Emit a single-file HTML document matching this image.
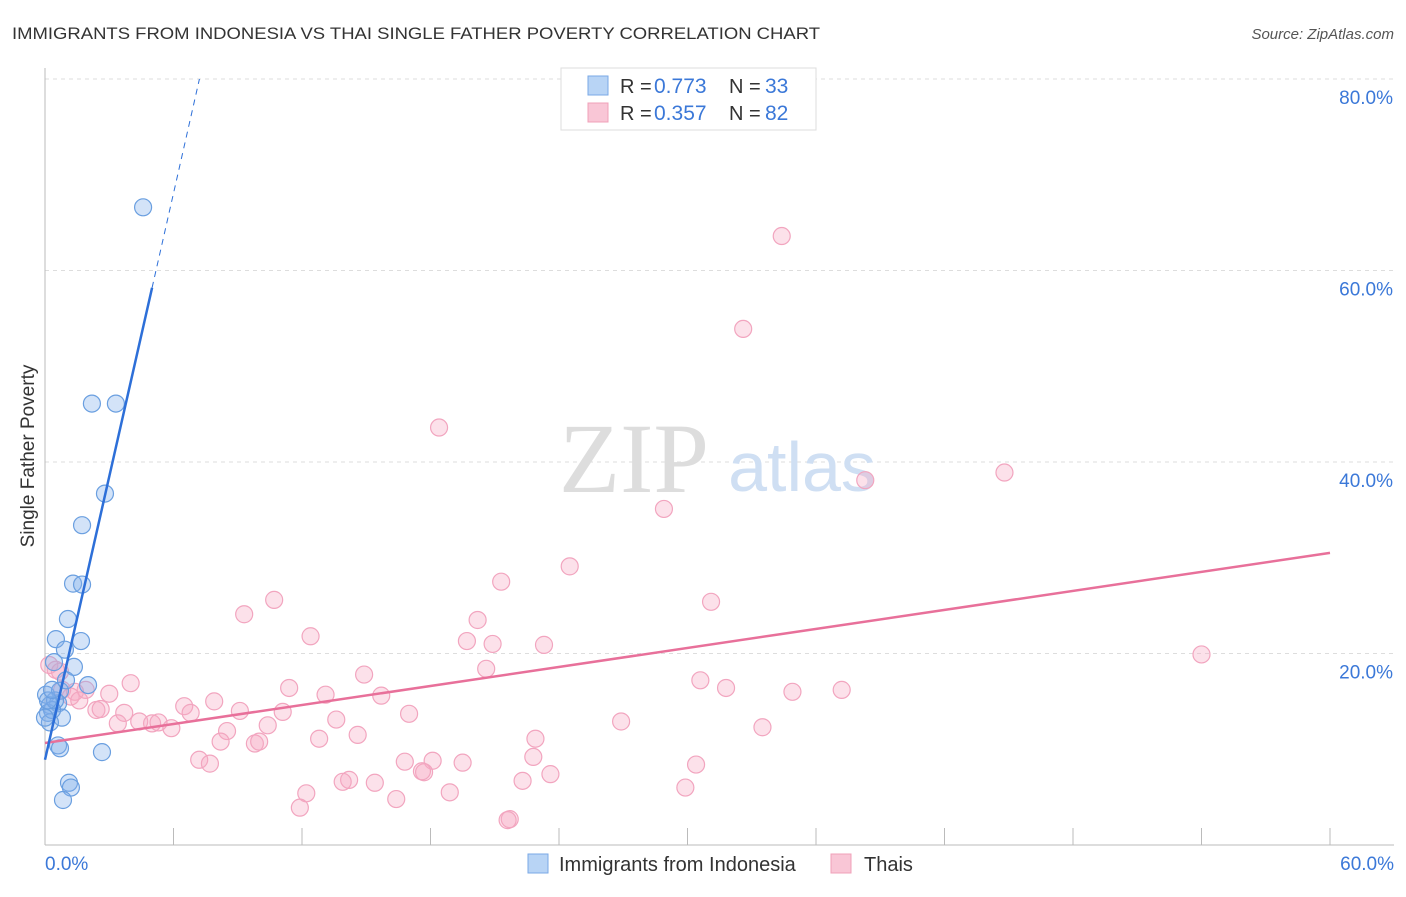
<!DOCTYPE html>
<html><head><meta charset="utf-8"><style>
body{margin:0;background:#fff;font-family:"Liberation Sans",sans-serif;}
</style></head><body>
<svg width="1406" height="892" font-family="Liberation Sans, sans-serif">
<text x="12" y="39" font-size="17" fill="#333" textLength="808" lengthAdjust="spacingAndGlyphs">IMMIGRANTS FROM INDONESIA VS THAI SINGLE FATHER POVERTY CORRELATION CHART</text>
<text x="1394" y="39" font-size="15" font-style="italic" fill="#555" text-anchor="end">Source: ZipAtlas.com</text>
<text x="34" y="456" font-size="19" fill="#333" text-anchor="middle" transform="rotate(-90 34 456)">Single Father Poverty</text>
<g id="grid"></g>
<text x="634" y="492" font-size="100" fill="#ddd" style="font-family:'Liberation Serif',serif" text-anchor="middle">ZIP</text>
<text x="802" y="491" font-size="70" fill="#cfdff3" text-anchor="middle">atlas</text>
<g id="marks"></g>
<g>
<rect x="561" y="68" width="255" height="62" fill="#fff" stroke="#ddd"/>
<rect x="588" y="76" width="20" height="19" fill="#b8d4f5" stroke="#7aa8e6"/>
<rect x="588" y="103" width="20" height="19" fill="#f9c6d6" stroke="#f0a0b8"/>
<text x="620" y="93" font-size="20" fill="#333">R =</text>
<text x="654" y="93" font-size="21" fill="#3b78d8">0.773</text>
<text x="729" y="93" font-size="20" fill="#333">N =</text>
<text x="765" y="93" font-size="21" fill="#3b78d8">33</text>
<text x="620" y="120" font-size="20" fill="#333">R =</text>
<text x="654" y="120" font-size="21" fill="#3b78d8">0.357</text>
<text x="729" y="120" font-size="20" fill="#333">N =</text>
<text x="765" y="120" font-size="21" fill="#3b78d8">82</text>
</g>
<g>
<rect x="528" y="854" width="20" height="19" fill="#b8d4f5" stroke="#7aa8e6"/>
<text x="559" y="871" font-size="20" fill="#333">Immigrants from Indonesia</text>
<rect x="831" y="854" width="20" height="19" fill="#f9c6d6" stroke="#f0a0b8"/>
<text x="864" y="871" font-size="20" fill="#333">Thais</text>
</g>
</svg>
<script>
const blueX=[4.58,2.19,3.31,2.80,1.73,1.31,1.73,1.07,0.51,1.68,0.93,1.35,0.42,0.05,0.70,2.01,0.23,0.61,0.14,0.79,0.23,0.33,0.61,0.70,2.66,1.12,1.21,0.84,0.98,0.47,0.14,0.33,0.0];
const blueY=[66.6,46.1,46.1,36.7,33.4,27.3,27.2,23.6,21.5,21.3,20.4,18.6,19.1,15.7,16.1,16.7,14.6,14.8,13.8,13.3,12.8,14.1,10.4,10.1,9.7,6.5,6.0,4.7,17.2,15.1,15.1,16.2,13.3];
const pinkX=[34.4,32.6,18.4,38.3,44.8,28.9,24.5,21.3,31.1,10.7,9.3,20.2,12.4,19.7,20.9,23.3,54.0,20.6,14.9,30.6,31.8,34.9,37.2,4.0,3.0,11.4,13.1,15.7,7.9,6.5,9.1,6.8,2.4,2.6,3.7,4.4,5.0,5.3,5.9,3.4,8.5,10.4,11.1,13.6,17.0,26.9,33.5,12.8,14.6,22.9,8.2,9.8,10.0,7.2,7.7,22.8,18.1,16.8,17.7,17.6,19.5,30.4,23.6,22.3,14.2,13.9,15.4,12.2,18.9,16.4,11.9,29.9,21.7,21.6,0.2,0.5,0.8,1.4,1.9,1.2,0.7,1.6];
const pinkY=[63.6,53.9,43.6,38.1,38.9,35.1,29.1,27.5,25.4,25.6,24.1,23.5,21.8,21.3,21.0,20.9,19.9,18.4,17.8,17.2,16.4,16.0,16.2,16.9,15.8,16.4,15.7,15.6,15.0,14.5,14.0,13.8,14.1,14.2,13.8,12.9,12.7,12.8,12.2,12.7,11.9,12.5,13.9,13.1,13.7,12.9,12.3,11.1,11.5,11.1,10.8,10.6,10.8,8.9,8.5,9.2,8.8,8.7,7.6,7.7,8.6,8.4,7.4,6.7,6.8,6.6,6.5,5.4,5.5,4.8,3.9,6.0,2.7,2.6,18.8,18.3,16.2,16.0,16.2,15.5,18.1,15.1];
const yTicks=[20,40,60,80];
const yTickLabels=["20.0%","40.0%","60.0%","80.0%"];
const blueTrend=[8.9,9.86];
const pinkTrend=[10.65,0.331];
const NS="http://www.w3.org/2000/svg";
const sx=v=>45+v/60*1285, sy=v=>845-v/20*191.5;
function mk(t,a,p){const e=document.createElementNS(NS,t);for(const k in a)e.setAttribute(k,a[k]);p.appendChild(e);return e;}
const grid=document.getElementById('grid'), marks=document.getElementById('marks');
yTicks.forEach((t,i)=>{
 const l=mk('line',{x1:45,x2:1394,y1:sy(t),y2:sy(t),stroke:'#ddd','stroke-dasharray':'4,4'},grid);
 
 
 const tx=mk('text',{x:1393,y:sy(t)+25,'font-size':19,fill:'#3b78d8','text-anchor':'end'},grid);
 tx.textContent=yTickLabels[i];
 
 
});
mk('line',{x1:45,x2:45,y1:68,y2:845,stroke:'#bbb'},grid);
mk('line',{x1:45,x2:1394,y1:845,y2:845,stroke:'#bbb'},grid);
for(let i=0;i<=10;i++){const x=sx(i*6);mk('line',{x1:x,x2:x,y1:828,y2:845,stroke:'#bbb'},grid);}
const xl1=mk('text',{x:45,y:870,'font-size':19,fill:'#3b78d8'},grid);xl1.textContent="0.0%";


const xl2=mk('text',{x:1394,y:870,'font-size':19,fill:'#3b78d8','text-anchor':'end'},grid);xl2.textContent="60.0%";


pinkX.forEach((x,i)=>{const c=mk('circle',{cx:sx(x),cy:sy(pinkY[i]),r:8.5,fill:'rgba(246,170,196,0.35)',stroke:'#f2a5bf','stroke-width':1.2},marks);
 
 });
blueX.forEach((x,i)=>{const c=mk('circle',{cx:sx(x),cy:sy(blueY[i]),r:8.5,fill:'rgba(130,175,235,0.35)',stroke:'#6a9fe0','stroke-width':1.2},marks);
 
 });
const pl=mk('line',{x1:sx(0),y1:sy(pinkTrend[0]),x2:sx(60),y2:sy(pinkTrend[0]+pinkTrend[1]*60),stroke:'#e8709a','stroke-width':2.5},marks);


const bl=mk('line',{x1:sx(0),y1:sy(blueTrend[0]),x2:sx(5),y2:sy(blueTrend[0]+blueTrend[1]*5),stroke:'#2d6fd8','stroke-width':2.5},marks);


const xe=(80-blueTrend[0])/blueTrend[1];
const bd=mk('line',{x1:sx(5),y1:sy(blueTrend[0]+blueTrend[1]*5),x2:sx(xe),y2:sy(80),stroke:'#2d6fd8','stroke-width':1,'stroke-dasharray':'6,5'},marks);


</script>
</body></html>
